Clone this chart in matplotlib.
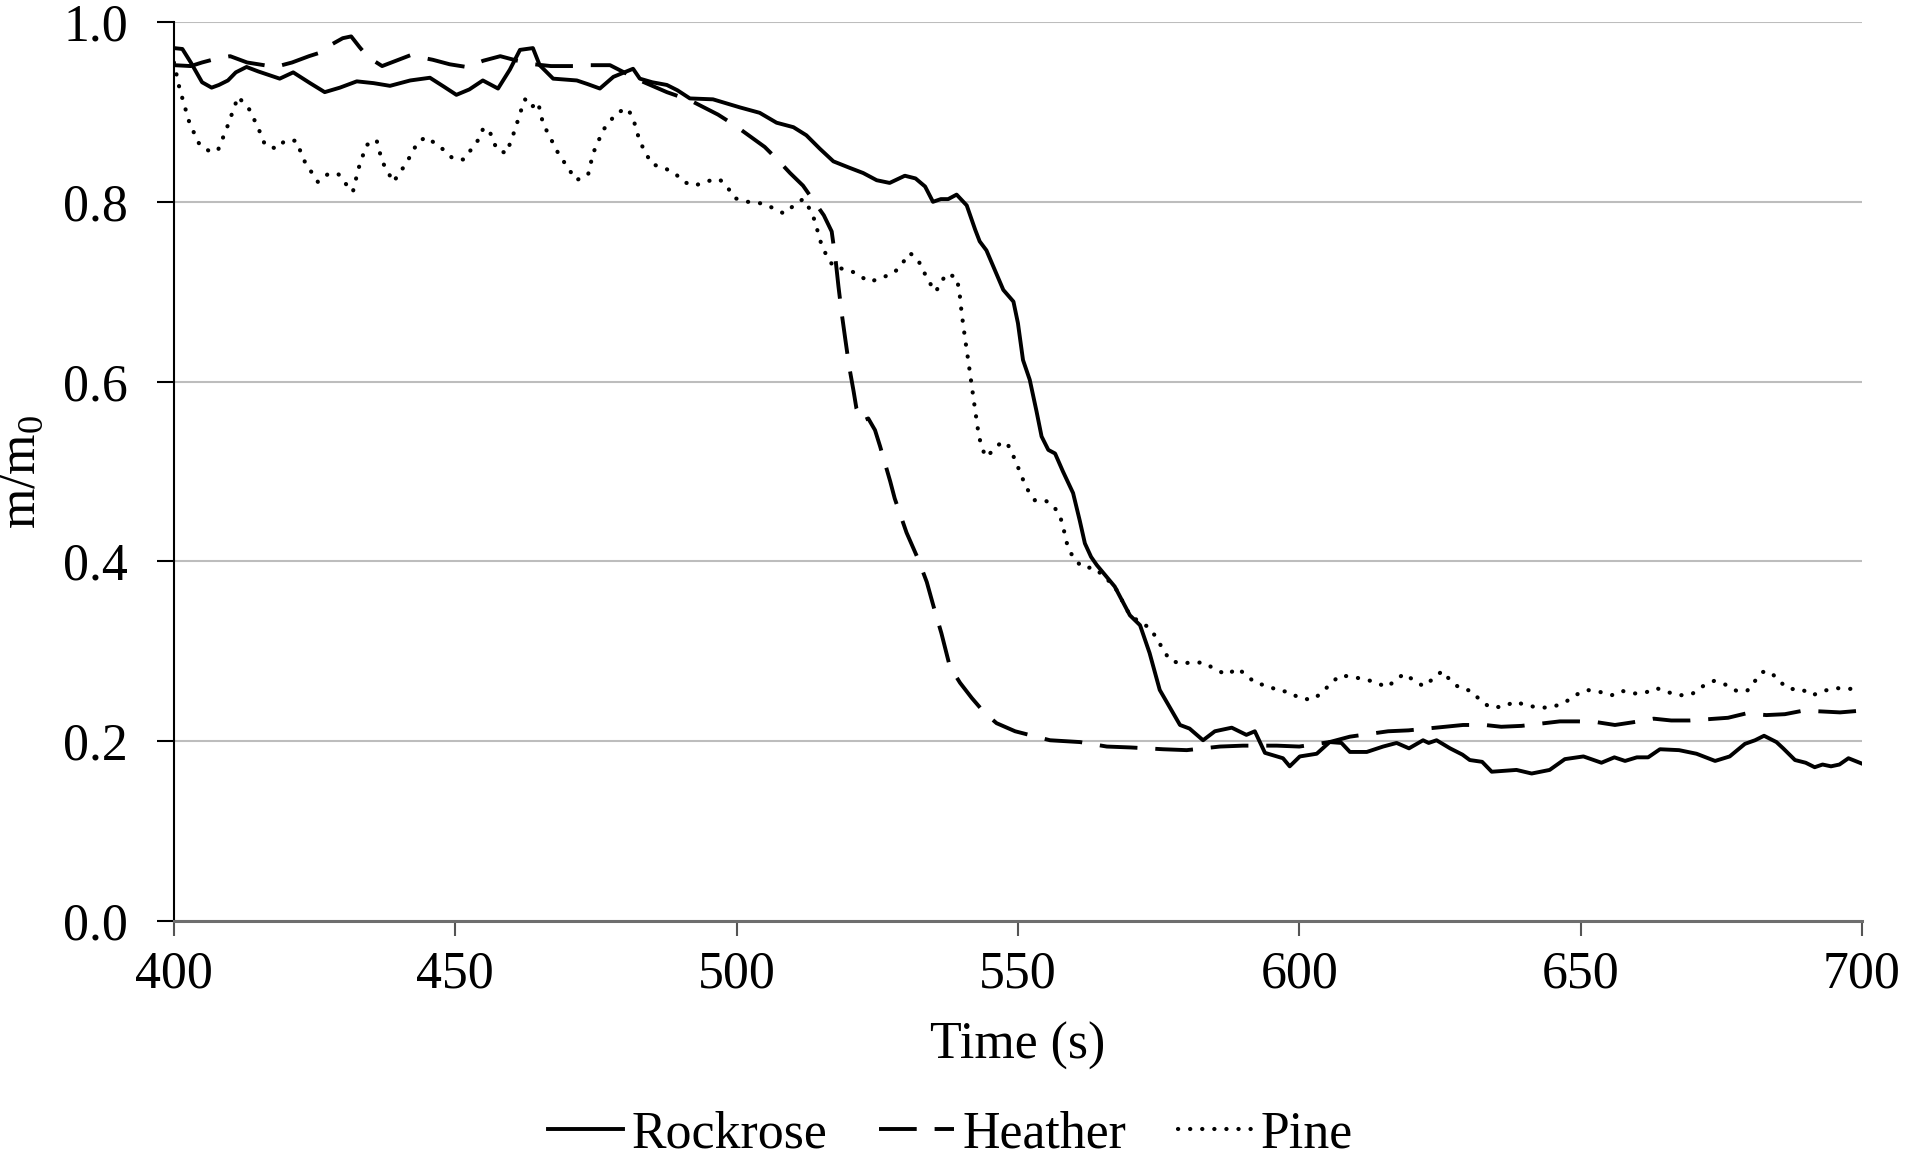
import matplotlib
matplotlib.use("Agg")
import matplotlib.pyplot as plt

# values (time in s, m/m0)
rockrose_t = [400, 401.5, 403, 405, 406.7, 408, 409.6, 411, 412.9, 415, 418.8, 421.2, 424.2, 426.8,
              429.5, 432.5, 435.5, 438.4, 442, 445.5, 448, 450.2, 452.5, 454.9, 457.6, 459.7, 461.5,
              463.8, 465, 467.4, 469.5, 471.6, 473.5, 475.7, 478.1, 481.6, 482.8, 485, 487.6, 489.5,
              491.7, 495.8, 500.6, 504.1, 507.1, 510.1, 512.4, 514.8, 517.2, 520, 522.5, 524.9,
              527.2, 529.9, 531.8, 533.5, 534.9, 536.3, 537.6, 539.1, 540.9, 542.4, 543.2, 544.4,
              545.9, 547.4, 549.2, 550.0, 550.9, 552.1, 553.3, 554.2, 555.4, 556.6, 558, 559.8,
              561, 561.9, 563, 564, 567.2, 569.9, 571.7, 573.4, 575.2, 576.4, 578.8, 580.5, 582.9,
              585, 588, 590.6, 592.1, 593.9, 596, 597.1, 598.3, 600.1, 603.1, 605.4, 607.5, 609,
              612, 614.9, 617.3, 619.5, 622, 623, 624.4, 626.8, 629, 630.3, 632.5, 634.2, 638.6,
              641.3, 644.5, 647.2, 650.5, 653.7, 656, 657.9, 660, 662, 664.1, 667.5, 670.6, 673.9,
              676.5, 679.2, 681, 682.6, 684.8, 686, 688.1, 690, 691.6, 693, 694.5, 696, 697.6, 700]
rockrose_m = [.971, .970, .955, .933, .927, .930, .935, .944, .950, .945, .937, .944, .932, .922,
              .927, .934, .932, .929, .935, .938, .928, .919, .925, .935, .926, .947, .969,
              .971, .952, .937, .936, .935, .931, .926, .939, .948, .937, .933, .930, .924,
              .915, .914, .905, .899, .888, .883, .874, .859, .845, .838, .832, .824,
              .821, .829, .826, .817, .800, .803, .803, .808, .796, .769, .756, .746,
              .724, .702, .689, .665, .624, .602, .567, .539, .524, .520, .500, .476,
              .445, .420, .405, .396, .372, .340, .329, .298, .257, .244, .218, .214, .201,
              .211, .215, .207, .211, .187, .183, .181, .172, .183, .186, .199, .198, .188,
              .188, .194, .198, .192, .201, .198, .201, .192, .185, .179, .177, .166, .168,
              .164, .168, .180, .183, .176, .182, .178, .182, .182, .191, .190, .186, .178,
              .183, .197, .201, .206, .199, .192, .179, .176, .171, .174, .172, .174, .181, .175]

heather_t = [400, 403, 405, 408, 410, 413, 416, 418, 421, 424, 426, 428, 430, 431.5, 433, 434.5,
             437, 439.5, 442, 446, 449, 452, 455, 458, 461, 464, 467, 471, 474, 477.5, 480, 482.8,
             487.6, 491.7, 496.7, 499.7, 505, 507.4, 509.5, 511.8, 513.6, 515.5, 516.9, 517.6,
             518.1, 518.7, 519.3, 520, 520.8, 521.3, 522.2, 523.4, 524.6, 525.5, 527.3, 528.1,
             530.2, 532.3, 533.8, 535, 536.4, 537.9, 539.7, 541.8, 544, 546.2, 549.5, 555.7, 561,
             565.8, 570, 575.8, 580, 585.9, 590, 596, 600, 605.4, 609, 615.8, 619.4, 625.9, 629.1,
             633, 635.9, 639.5, 646.3, 649.6, 653, 656.1, 659.3, 663, 666.1, 669.4, 676.2, 679.5,
             683, 686.3, 689.6, 693, 696.1, 700]
heather_m = [.952, .951, .955, .960, .962, .955, .952, .950, .955, .962, .966, .975, .982, .984, .972, .961,
             .951, .957, .963, .958, .953, .950, .957, .962, .957, .953, .951, .951, .952, .952, .944, .935,
             .922, .913, .897, .885, .861, .846, .832, .818, .802, .785, .767, .735,
             .706, .675, .648, .617, .589, .570, .556, .559, .546, .528, .489, .470,
             .432, .402, .377, .350, .320, .283, .265, .248, .232, .220, .211, .201, .199,
             .194, .193, .191, .190, .194, .195, .195, .194, .199, .205, .211, .212, .216, .218,
             .218, .216, .217, .222, .222, .221, .218, .221, .225, .223, .223, .226, .231,
             .229, .230, .234, .233, .232, .234]

pine_t = [400, 401, 402.8, 404.6, 406.4, 407.8, 409.4, 411.4, 413.5, 415.4, 416.2, 418.3, 419.7, 421.7,
          423.3, 425.6, 427.4, 429.2, 430.4, 431.8, 432.8, 434.2, 436, 437, 439, 441.3, 443.4, 444.9,
          447.9, 449.6, 451.5, 454.1, 455, 456, 457.4, 459.1, 460.6, 461.6, 462.4, 463.5, 464.7,
          465.6, 468.3, 471.5, 473.6, 474.5, 476.3, 478.7, 480.6, 481.6, 482.8, 484.9, 487, 489,
          490.6, 492.6, 494.7, 497, 498.5, 499.7, 502, 504.7, 506.5, 508.4, 510, 511.8, 513, 513.9,
          514.5, 515.1, 516, 517.2, 520.4, 522, 523.7, 526, 528, 529.5, 530.8, 532.2, 533.2, 534.3,
          535.4, 536.3, 537.3, 539.1, 539.6, 540, 540.6, 541.2, 541.8, 542.4, 543, 543.5, 544.3,
          545.7, 547.1, 548.2, 549.2, 550, 550.9, 551.8, 553, 554.8, 556.3, 557.5, 558.1, 558.5,
          559.2, 560.4, 561.6, 563.5, 565, 567.2, 569.9, 571.1, 573.4, 574.6, 575.8, 577, 579.1,
          581, 583.2, 585, 587.1, 589.1, 590.8, 592.4, 594.3, 596.3, 598.1, 600, 602.2, 603.9,
          605.4, 607.2, 609.1, 611.4, 613.4, 615.5, 617, 618.6, 620.3, 622.1, 623.7, 625.4, 626.8,
          628.5, 630.5, 632.1, 633.8, 636.2, 638.3, 640.3, 642.8, 645, 647.2, 649, 651.1, 653.3,
          655.5, 657.3, 659.5, 661.5, 663.5, 665.2, 667.6, 669.7, 671.7, 673.7, 675.7, 677.7,
          679.6, 681, 682.4, 683.8, 685.2, 687.1, 689.2, 691.2, 693.2, 695.5, 697.7, 700]
pine_m = [.955, .926, .887, .863, .856, .857, .882, .917, .902, .876, .863, .859, .868, .868,
          .844, .822, .831, .831, .821, .811, .837, .863, .869, .845, .822, .843, .867, .872,
          .858, .848, .847, .869, .882, .880, .858, .854, .880, .900, .914, .905, .911,
          .887, .854, .824, .830, .854, .880, .899, .904, .893, .867, .842, .838, .832,
          .822, .818, .823, .825, .815, .804, .800, .798, .793, .787, .795, .803, .792, .779,
          .765, .752, .740, .728, .723, .717, .711, .716, .721, .732, .743, .736, .723, .710,
          .700, .710, .720, .716, .700, .676, .648, .622, .595, .568, .542, .528, .516,
          .524, .533, .530, .517, .505, .491, .479, .468, .468, .462, .450, .437, .424,
          .411, .400, .393, .393, .385, .372, .340, .335, .326, .315, .302, .290, .286,
          .288, .287, .280, .274, .281, .272, .264, .262, .256, .255, .248, .246, .253,
          .263, .273, .272, .269, .266, .260, .267, .275, .268, .261, .269, .278, .268,
          .259, .256, .246, .238, .238, .244, .240, .237, .238, .243, .251, .257, .255,
          .251, .256, .253, .254, .259, .255, .251, .252, .261, .267, .263, .256,
          .256, .267, .277, .277, .267, .258, .258, .251, .256, .259, .258, .260]

x_ticks = [400, 450, 500, 550, 600, 650, 700]
y_ticks = [0.0, 0.2, 0.4, 0.6, 0.8, 1.0]

plt.rcParams['font.family'] = ['Liberation Serif', 'DejaVu Serif']
plt.rcParams['mathtext.fontset'] = 'custom'
plt.rcParams['mathtext.rm'] = 'Liberation Serif'

fig = plt.figure(figsize=(9.525, 5.795), dpi=200)
ax = fig.add_axes([0.0913, 0.2054, 0.8861, 0.7756])

ax.plot(rockrose_t, rockrose_m, color='black', lw=1.4, label='Rockrose')
ax.plot(heather_t, heather_m, color='black', lw=1.4, linestyle=(0, (9.7, 4.6)), label='Heather')
# round-capped near-zero dashes give the fat dots of the original
ax.plot(pine_t, pine_m, color='black', lw=1.5, linestyle=(0, (0.05, 2.85)),
        dash_capstyle='round', label='Pine')

ax.set_xlim(400, 700)
ax.set_ylim(0, 1)
ax.set_xticks(x_ticks)
ax.set_yticks(y_ticks)
ax.set_yticklabels(['%.1f' % v for v in y_ticks])

# horizontal grid only
ax.grid(axis='y', color='#bdbdbd', lw=0.75)
ax.set_axisbelow(True)

for side in ['top', 'right']:
    ax.spines[side].set_visible(False)
ax.spines['left'].set_color('black')
ax.spines['left'].set_linewidth(0.75)
ax.spines['bottom'].set_color('#6e6e6e')
ax.spines['bottom'].set_linewidth(1.1)

ax.tick_params(axis='x', direction='out', length=5.5, width=0.75, color='#555555',
               labelsize=18.7, pad=5)
ax.tick_params(axis='y', direction='out', length=6, width=0.75, color='black',
               labelsize=18.7, pad=10.5)

ax.set_xlabel('Time (s)', fontsize=18.7)
ax.xaxis.set_label_coords(0.5, -0.112)
ax.set_ylabel(r'm/m$_{\mathregular{0}}$', fontsize=18.7)
ax.yaxis.set_label_coords(-0.076, 0.5)

fig.legend(loc='center', bbox_to_anchor=(0.499, 0.021), ncol=3, frameon=False,
           fontsize=18.7, handlelength=1.45, handletextpad=0.15, columnspacing=1.0)

fig.savefig('out.png', dpi=200)
